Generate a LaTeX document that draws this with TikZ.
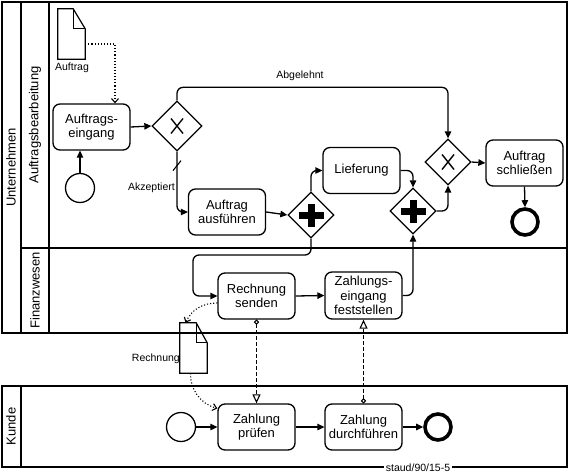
\documentclass[tikz,border=0pt]{standalone}
\usepackage{fontspec}
\setmainfont{Liberation Sans}
\usetikzlibrary{arrows.meta,shapes.geometric}
\begin{document}
\begin{tikzpicture}[x=1pt,y=-1pt,
  every node/.style={inner sep=0pt},
  pool/.style={draw, line width=1.5pt},
  lanetext/.style={rotate=90, font=\fontsize{13}{15}\selectfont},
  task/.style={draw, line width=1.3pt, rounded corners=7pt, minimum width=77pt, minimum height=46pt, align=center, font=\fontsize{13}{14.5}\selectfont},
  startev/.style={circle, draw, line width=1.3pt, minimum size=29pt},
  endev/.style={circle, draw, line width=3.6pt, minimum size=26pt},
  xgate/.style={diamond, draw, line width=1.3pt, minimum size=#1,
    path picture={\draw[line width=1.4pt]
      ([shift={(-6pt,-7.5pt)}]path picture bounding box.center) -- ([shift={(6pt,7.5pt)}]path picture bounding box.center)
      ([shift={(-6pt,7.5pt)}]path picture bounding box.center) -- ([shift={(6pt,-7.5pt)}]path picture bounding box.center);}},
  pgate/.style={diamond, draw, line width=1.3pt, minimum size=46pt,
    path picture={\draw[line width=7pt]
      ([shift={(-12.5pt,0pt)}]path picture bounding box.center) -- ([shift={(12.5pt,0pt)}]path picture bounding box.center)
      ([shift={(0pt,-11.5pt)}]path picture bounding box.center) -- ([shift={(0pt,11.5pt)}]path picture bounding box.center);}},
  docbox/.style={minimum width=27pt, minimum height=50pt},
  docline/.style={draw, line width=1.2pt},
  flow/.style={draw, line width=1.3pt, rounded corners=6pt, -{Triangle[length=7pt,width=6.5pt]}},
  msg/.style={draw, line width=1.1pt, dash pattern=on 4pt off 2pt, {Circle[open,length=5pt,width=5pt]}-{Triangle[open,length=9pt,width=8pt]}},
  assoc/.style={draw, line width=1.1pt, dotted, -{Straight Barb[length=4pt,width=7pt]}},
  small/.style={font=\fontsize{10.5}{12}\selectfont}
]
\useasboundingbox (0,0) rectangle (570,476);

% pools and lanes
\draw[pool] (2,2) rectangle (567,333);
\draw[pool] (21,2) -- (21,333);
\draw[pool] (49,2) -- (49,333);
\draw[pool] (21,248) -- (567,248);
\draw[pool] (2,386) rectangle (567,467);
\draw[pool] (21,386) -- (21,467);
\node[lanetext] (lu) at (11,167.5) {Unternehmen};
\node[lanetext] (la) at (35,125) {Auftragsbearbeitung};
\node[lanetext] (lf) at (35,290.5) {Finanzwesen};
\node[lanetext] (lk) at (11,426.5) {Kunde};

% tasks
\node[task] (ae) at (91.5,127) {Auftrags-\\eingang};
\node[task] (aa) at (227,212) {Auftrag\\ausführen};
\node[task] (lief) at (361.5,170.5) {Lieferung};
\node[task] (as) at (524.5,163) {Auftrag\\schließen};
\node[task] (rs) at (256.5,296) {Rechnung\\senden};
\node[task, minimum height=47pt] (zef) at (363.5,295.5) {Zahlungs-\\eingang\\feststellen};
\node[task] (zp) at (256.5,427) {Zahlung\\prüfen};
\node[task] (zd) at (363.5,427) {Zahlung\\durchführen};

% events
\node[startev] (s1) at (80,188) {};
\node[endev] (e1) at (525,222) {};
\node[startev] (s2) at (181,427) {};
\node[endev] (e2) at (438,427) {};

% gateways
\node[xgate=50pt] (x1) at (177,126) {};
\node[xgate=46pt] (x2) at (448,162) {};
\node[pgate] (p1) at (311,215) {};
\node[pgate] (p2) at (413,211) {};

% documents
\node[docbox] (d1) at (71.5,34) {};
\draw[docline] (d1.north west) -- ([xshift=-12pt]d1.north east) -- ([yshift=-20pt]d1.north east) -- (d1.south east) -- (d1.south west) -- cycle;
\draw[docline] ([xshift=-12pt]d1.north east) |- ([yshift=-20pt]d1.north east);
\node[small] (d1l) at (72,68) {Auftrag};

\node[docbox] (d2) at (193.5,348) {};
\draw[docline] (d2.north west) -- ([xshift=-11pt]d2.north east) -- ([yshift=-20pt]d2.north east) -- (d2.south east) -- (d2.south west) -- cycle;
\draw[docline] ([xshift=-11pt]d2.north east) |- ([yshift=-20pt]d2.north east);
\node[small, anchor=east] (d2l) at (180,359) {Rechnung};

% sequence flows
\draw[flow] (s1.north) -- (s1.north |- ae.south);
\draw[flow] (ae.east) -- (x1.west);
\draw[flow] (x1.north) -- ++(0,-13) -| (x2.north);
\node[small] (lab1) at (300,76) {Abgelehnt};
\draw[flow] (x1.south) |- (aa.west);
\draw[line width=1.1pt] ([shift={(-4pt,-19pt)}]x1.south) -- ([shift={(4pt,-9pt)}]x1.south);
\node[small, anchor=east] (lab2) at (175,188) {Akzeptiert};
\draw[flow] (aa.east) -- (p1.west);
\draw[flow] (p1.north) |- (lief.west);
\draw[flow] (lief.east) -| (p2.north);
\draw[flow] (p2.east) -| (x2.south);
\draw[flow] (x2.east) -- (as.west);
\draw[flow] (as.south) -- (e1.north);
\coordinate (w1) at (193,255);
\draw[flow] (p1.south) |- (w1) |- (rs.west);
\draw[flow] (rs.east) -- (zef.west);
\draw[flow] (zef.east) -| (p2.south);
\draw[flow] (s2.east) -- (zp.west);
\draw[flow] (zp.east) -- (zd.west);
\draw[flow] (zd.east) -- (e2.west);

% message flows
\draw[msg] (rs.south) -- (zp.north);
\draw[msg] (zd.north) -- (zef.south);

% associations
\draw[assoc] ([yshift=-10pt]d1.east) -| ([xshift=23.5pt]ae.north);
\draw[assoc] ([yshift=-7pt]rs.west) to[out=180,in=65] ([xshift=-8pt]d2.north);
\draw[assoc] ([xshift=-3pt]d2.south) to[out=-90,in=165] ([yshift=-5pt]zp.north west);

% footer
\node[small, fill=white, inner xsep=1.5pt, inner ysep=1pt] (foot) at (418,468) {staud/90/15-5};
\end{tikzpicture}
\end{document}
